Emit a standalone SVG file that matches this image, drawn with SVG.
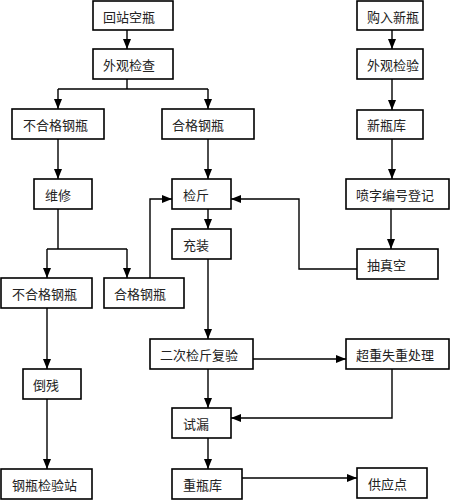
<svg xmlns="http://www.w3.org/2000/svg" width="450" height="500" viewBox="0 0 450 500">
<defs>
<marker id="ah" markerUnits="userSpaceOnUse" markerWidth="10" markerHeight="10" viewBox="0 0 10 10" refX="10" refY="5" orient="auto">
<path d="M0,1 L10,5 L0,9 Z" fill="#000"/>
</marker>
<style>
.box{fill:#fff;stroke:#000;stroke-width:1.6}
.t{font-family:"Noto Sans CJK SC","Liberation Serif",serif;font-size:13px;fill:#222;dominant-baseline:central}
.c{fill:none;stroke:#000;stroke-width:1.4}
.a{marker-end:url(#ah)}
</style>
</defs>
<rect width="450" height="500" fill="#fff"/>
<g id="connectors">
<path class="c a" d="M127,30 V49"/>
<path class="c" d="M127,79 V89 M58,89 H208"/>
<path class="c a" d="M58,89 V109"/>
<path class="c a" d="M208,89 V109"/>
<path class="c a" d="M392,30 V49"/>
<path class="c a" d="M392,79 V110"/>
<path class="c a" d="M392,139 V179"/>
<path class="c a" d="M58,139 V179"/>
<path class="c a" d="M208,139 V179"/>
<path class="c" d="M58,209 V249 M47,249 H127"/>
<path class="c a" d="M47,249 V278"/>
<path class="c a" d="M127,249 V278"/>
<path class="c a" d="M150,278 V199 H172"/>
<path class="c a" d="M391,209 V249"/>
<path class="c a" d="M357,269 H299 V199 H231"/>
<path class="c a" d="M208,209 V229"/>
<path class="c a" d="M208,259 V339"/>
<path class="c a" d="M47,308 V369"/>
<path class="c a" d="M47,399 V469"/>
<path class="c a" d="M253,359 H346"/>
<path class="c a" d="M208,369 V408"/>
<path class="c a" d="M392,369 V418 H231"/>
<path class="c a" d="M208,438 V469"/>
<path class="c a" d="M242,478 H357"/>
</g>
<g id="n1"><rect class="box" x="93" y="1" width="80" height="29"/><text class="t" x="103" y="16">回站空瓶</text></g>
<g id="n2"><rect class="box" x="93" y="49" width="80" height="30"/><text class="t" x="103" y="64">外观检查</text></g>
<g id="n3"><rect class="box" x="12" y="109" width="92" height="30"/><text class="t" x="23" y="124">不合格钢瓶</text></g>
<g id="n4"><rect class="box" x="162" y="109" width="92" height="30"/><text class="t" x="172" y="124">合格钢瓶</text></g>
<g id="n5"><rect class="box" x="357" y="1" width="66" height="29"/><text class="t" x="367" y="16">购入新瓶</text></g>
<g id="n6"><rect class="box" x="357" y="49" width="66" height="30"/><text class="t" x="367" y="64">外观检验</text></g>
<g id="n7"><rect class="box" x="357" y="110" width="66" height="29"/><text class="t" x="367" y="124">新瓶库</text></g>
<g id="n8"><rect class="box" x="34" y="179" width="58" height="30"/><text class="t" x="45" y="194">维修</text></g>
<g id="n9"><rect class="box" x="172" y="179" width="59" height="30"/><text class="t" x="183" y="194">检斤</text></g>
<g id="n10"><rect class="box" x="346" y="179" width="103" height="30"/><text class="t" x="356" y="194">喷字编号登记</text></g>
<g id="n11"><rect class="box" x="172" y="229" width="59" height="30"/><text class="t" x="183" y="244">充装</text></g>
<g id="n12"><rect class="box" x="357" y="249" width="81" height="30"/><text class="t" x="367" y="264">抽真空</text></g>
<g id="n13"><rect class="box" x="1" y="278" width="91" height="30"/><text class="t" x="12" y="293">不合格钢瓶</text></g>
<g id="n14"><rect class="box" x="104" y="278" width="80" height="30"/><text class="t" x="114" y="293">合格钢瓶</text></g>
<g id="n15"><rect class="box" x="150" y="339" width="103" height="30"/><text class="t" x="160" y="354">二次检斤复验</text></g>
<g id="n16"><rect class="box" x="346" y="339" width="103" height="30"/><text class="t" x="356" y="354">超重失重处理</text></g>
<g id="n17"><rect class="box" x="23" y="369" width="58" height="30"/><text class="t" x="33" y="384">倒残</text></g>
<g id="n18"><rect class="box" x="172" y="408" width="59" height="30"/><text class="t" x="183" y="423">试漏</text></g>
<g id="n19"><rect class="box" x="1" y="469" width="91" height="30"/><text class="t" x="12" y="484">钢瓶检验站</text></g>
<g id="n20"><rect class="box" x="172" y="469" width="70" height="30"/><text class="t" x="183" y="484">重瓶库</text></g>
<g id="n21"><rect class="box" x="357" y="468" width="70" height="30"/><text class="t" x="368" y="483">供应点</text></g>
</svg>
